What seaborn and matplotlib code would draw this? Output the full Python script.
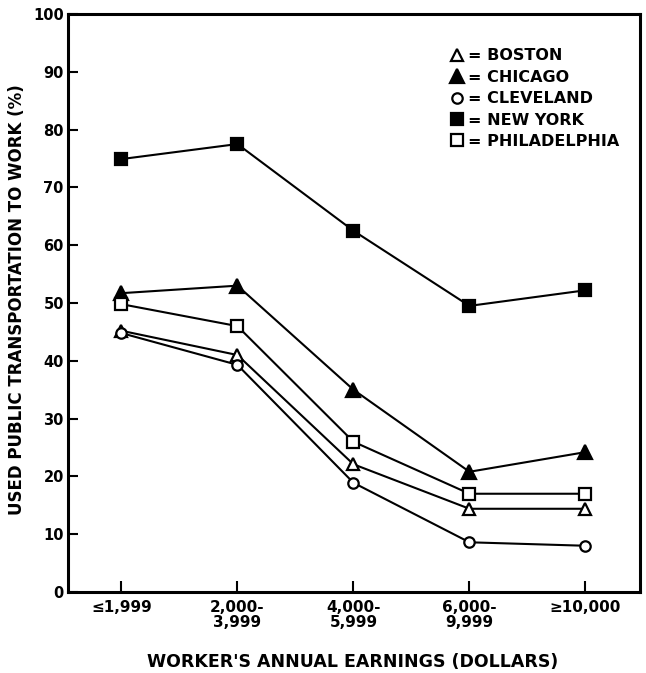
import matplotlib
matplotlib.use("Agg")
import matplotlib.pyplot as plt
import seaborn as sns
import pandas as pd
from matplotlib.lines import Line2D

sns.set_theme(style="white")
plt.rcParams['font.family'] = ['DejaVu Sans']
plt.rcParams['font.weight'] = 'bold'
plt.rcParams['text.color'] = 'black'
plt.rcParams['axes.labelcolor'] = 'black'

earnings = ["\u22641,999", "2,000-\n3,999", "4,000-\n5,999", "6,000-\n9,999", "\u226510,000"]
cities = ["BOSTON", "CHICAGO", "CLEVELAND", "NEW YORK", "PHILADELPHIA"]
boston = [45.2, 41.0, 22.1, 14.4, 14.4]
chicago = [51.7, 53.0, 35.0, 20.8, 24.2]
cleveland = [44.8, 39.3, 18.9, 8.6, 8.0]
new_york = [74.9, 77.5, 62.5, 49.5, 52.2]
philadelphia = [49.8, 46.0, 26.0, 17.0, 17.0]
yticks = [0, 10, 20, 30, 40, 50, 60, 70, 80, 90, 100]

series = [boston, chicago, cleveland, new_york, philadelphia]
rows = []
for c, vals in zip(cities, series):
    for i, v in enumerate(vals):
        rows.append({"city": c, "x": i, "pct": v})
df = pd.DataFrame(rows)

styles = {
    "BOSTON": dict(marker="^", markerfacecolor="white", markersize=9),
    "CHICAGO": dict(marker="^", markerfacecolor="black", markersize=10),
    "CLEVELAND": dict(marker="o", markerfacecolor="white", markersize=7.5),
    "NEW YORK": dict(marker="s", markerfacecolor="black", markersize=8.5),
    "PHILADELPHIA": dict(marker="s", markerfacecolor="white", markersize=8.5),
}

fig = plt.figure(figsize=(6.46, 6.73), dpi=100)
ax = fig.add_axes([68/646, 1-592/673, 572/646, 578/673])

for c in cities:
    sub = df[df.city == c]
    sns.lineplot(data=sub, x="x", y="pct", ax=ax, color="black", linewidth=1.5,
                 markeredgecolor="black", markeredgewidth=1.6, **styles[c])

ax.set_xlim(-0.46, 4.47)
ax.set_ylim(0, 100)
ax.set_xticks(range(len(earnings)))
ax.set_xticklabels(earnings, fontsize=11, fontweight="bold", linespacing=1.0)
ax.set_yticks(yticks)
ax.set_yticklabels([str(t) for t in yticks], fontsize=10.5, fontweight="bold")
ax.tick_params(axis="y", direction="in", length=7, width=1.5, pad=3, left=True, colors="black")
ax.tick_params(axis="x", direction="in", length=8, width=1.5, pad=6, bottom=True, colors="black")
for s in ax.spines.values():
    s.set_visible(True)
    s.set_color("black")
    s.set_linewidth(2.2)

ax.set_xlabel("WORKER'S ANNUAL EARNINGS (DOLLARS)", fontsize=12.5, fontweight="bold", color="black")
ax.set_ylabel("USED PUBLIC TRANSPORTATION TO WORK (%)", fontsize=12, fontweight="bold", color="black")
ax.xaxis.set_label_coords(0.497, -0.106)
ax.yaxis.set_label_coords(-0.074, 0.505)

handles = [Line2D([], [], linestyle="none", color="black", markeredgecolor="black",
                  markeredgewidth=1.6, **styles[c]) for c in cities]
leg = ax.legend(handles, ["= " + c for c in cities], loc="upper left",
                bbox_to_anchor=((446-68)/572, (592-42)/578), frameon=False,
                handlelength=0.6, handletextpad=0.35, labelspacing=0.4,
                prop={"size": 11.5, "weight": "bold"}, borderaxespad=0)
for t in leg.get_texts():
    t.set_color("black")

fig.savefig("out.png", dpi=100)
